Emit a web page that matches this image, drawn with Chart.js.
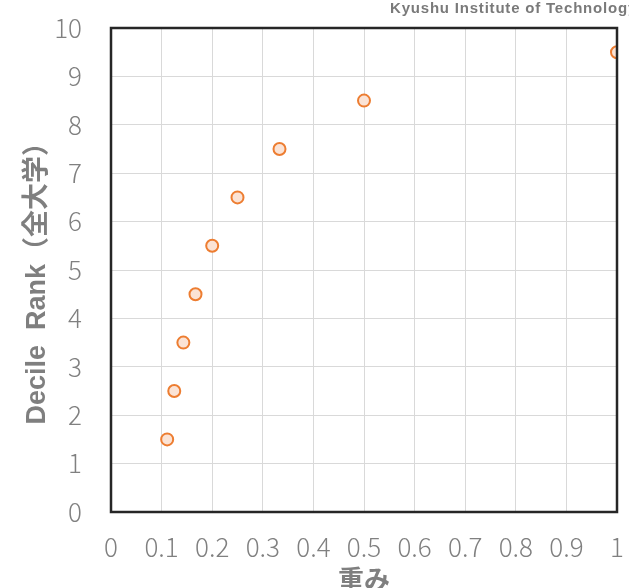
<!DOCTYPE html>
<html>
<head>
<meta charset="utf-8">
<script src="https://cdn.jsdelivr.net/npm/chart.js@4/dist/chart.umd.min.js"></script>
<style>
  html, body { margin: 0; padding: 0; background: #fff; }
  #wrap { width: 629px; height: 588px; }
</style>
</head>
<body>
<div id="wrap"><canvas id="rankChart"></canvas></div>
<script>
// data
const weights = [0.111, 0.125, 0.143, 0.167, 0.2, 0.25, 0.333, 0.5, 1.0];
const decileRanks = [1.5, 2.5, 3.5, 4.5, 5.5, 6.5, 7.5, 8.5, 9.5];
const xTicks = [0, 0.1, 0.2, 0.3, 0.4, 0.5, 0.6, 0.7, 0.8, 0.9, 1];
const yTicks = [0, 1, 2, 3, 4, 5, 6, 7, 8, 9, 10];

const tickFont = { family: '"Noto Sans CJK JP", "Noto Sans", sans-serif', size: 26, weight: '300' };
const yTitleFont = { family: '"Liberation Sans", "Noto Sans CJK JP", sans-serif', size: 27, weight: 'bold' };
const xTitleFont = { family: '"Noto Sans CJK JP", sans-serif', size: 26, weight: 'bold' };

// no extra room for overhanging tick labels, the layout padding handles it
function noPad(s) {
    s.paddingLeft = 0;
    s.paddingRight = 0;
    s.paddingTop = 0;
    s.paddingBottom = 0;
}

// frame around the plot + watermark text
const framePlugin = {
    id: 'frame',
    beforeDraw(chart) {
        const ctx = chart.ctx;
        ctx.save();
        ctx.fillStyle = '#ffffff';
        ctx.fillRect(0, 0, chart.width, chart.height);
        ctx.restore();
    },
    afterDatasetsDraw(chart) {
        const { ctx, chartArea: a } = chart;
        ctx.save();
        ctx.strokeStyle = '#262626';
        ctx.lineWidth = 2.5;
        ctx.strokeRect(a.left, a.top, a.right - a.left, a.bottom - a.top);
        ctx.restore();
    },
    afterDraw(chart) {
        const ctx = chart.ctx;
        ctx.save();
        ctx.fillStyle = '#7a7a7a';
        ctx.font = 'bold 15px "Liberation Sans", sans-serif';
        ctx.letterSpacing = '0.8px';
        ctx.textBaseline = 'middle';
        ctx.textAlign = 'left';
        ctx.fillText('Kyushu Institute of Technology', 390, 9);
        ctx.restore();
    }
};

const points = weights.map((w, i) => ({ x: w, y: decileRanks[i] }));

new Chart(document.getElementById('rankChart').getContext('2d'), {
    type: 'scatter',
    data: {
        datasets: [{
            data: points,
            pointRadius: 6,
            pointHoverRadius: 6,
            pointBorderWidth: 2,
            borderColor: '#ed7d31',
            backgroundColor: '#fbe3d5'
        }]
    },
    options: {
        responsive: true,
        maintainAspectRatio: false,
        animation: false,
        layout: { padding: { top: 28, right: 12, left: 0, bottom: 0 } },
        plugins: {
            legend: { display: false },
            tooltip: { enabled: false }
        },
        scales: {
            x: {
                type: 'linear',
                min: 0,
                max: 1,
                afterBuildTicks: s => { s.ticks = xTicks.map(v => ({ value: v })); },
                afterFit: s => { s.height = 76; noPad(s); },
                grid: { color: '#d9d9d9', drawTicks: false },
                border: { display: false },
                ticks: {
                    color: '#808080',
                    font: tickFont,
                    padding: 20,
                    maxRotation: 0,
                    callback: v => String(Math.round(v * 10) / 10)
                },
                title: {
                    display: true,
                    text: '重み',
                    color: '#7f7f7f',
                    font: xTitleFont,
                    padding: { top: 0, bottom: -7 }
                }
            },
            y: {
                type: 'linear',
                min: 0,
                max: 10,
                afterBuildTicks: s => { s.ticks = yTicks.map(v => ({ value: v })); },
                afterFit: s => { s.width = 111; noPad(s); },
                grid: { color: '#d9d9d9', drawTicks: false },
                border: { display: false },
                ticks: {
                    color: '#808080',
                    font: tickFont,
                    padding: 29
                },
                title: {
                    display: true,
                    text: 'Decile  Rank（全大学）\u3000',
                    color: '#7f7f7f',
                    font: yTitleFont,
                    padding: { top: 21, bottom: 0 }
                }
            }
        }
    },
    plugins: [framePlugin]
});
</script>
</body>
</html>
